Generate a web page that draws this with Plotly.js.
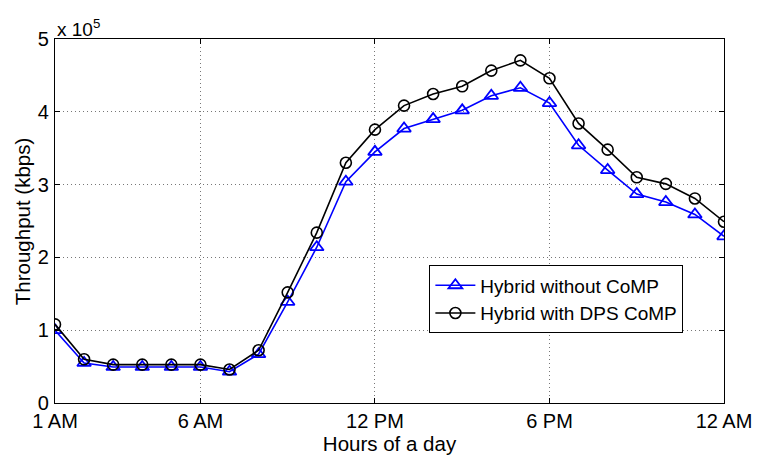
<!DOCTYPE html>
<html>
<head>
<meta charset="utf-8">
<script src="https://cdn.plot.ly/plotly-3.0.1.min.js"></script>
<style>html,body{margin:0;padding:0;background:#fff;}#chart{width:759px;height:457px;}</style>
</head>
<body>
<div id="chart"></div>
<script>
// Hours of the day (1 = 1 AM ... 24 = 12 AM)
const hours = [1,2,3,4,5,6,7,8,9,10,11,12,13,14,15,16,17,18,19,20,21,22,23,24];
// Throughput in units of 1e5 kbps
const withoutCoMP = [1.00,0.55,0.495,0.495,0.495,0.495,0.43,0.67,1.39,2.14,3.04,3.45,3.77,3.90,4.02,4.22,4.33,4.12,3.54,3.20,2.87,2.76,2.59,2.29];
const withDPS = [1.08,0.60,0.527,0.527,0.527,0.527,0.46,0.724,1.52,2.34,3.30,3.755,4.085,4.245,4.35,4.566,4.707,4.46,3.84,3.48,3.10,3.01,2.81,2.49];
const xTickVals = [1,6,12,18,24];
const xTickText = ['1 AM','6 AM','12 PM','6 PM','12 AM'];
const yTickVals = [0,1,2,3,4,5];
const seriesNames = ['Hybrid without CoMP','Hybrid with DPS CoMP'];

const fam = 'Liberation Sans, Arial, sans-serif';
const tickFont = {family:fam, size:20, color:'#000'};
const titleFont = {family:fam, size:20.5, color:'#000'};
const legendFont = {family:fam, size:19, color:'#000'};

const traces = [
  {x:hours, y:withoutCoMP, name:seriesNames[0], mode:'lines+markers', type:'scatter',
   line:{color:'#0000ff', width:1.6},
   marker:{symbol:'triangle-up-open', size:12, color:'#0000ff', line:{width:1.8, color:'#0000ff'}}},
  {x:hours, y:withDPS, name:seriesNames[1], mode:'lines+markers', type:'scatter',
   line:{color:'#000000', width:1.6},
   marker:{symbol:'circle-open', size:11, color:'#000000', line:{width:1.6, color:'#000000'}}}
];

const layout = {
  width:759, height:457,
  margin:{l:54.5, r:35.3, t:38.7, b:54.3},
  paper_bgcolor:'#fff', plot_bgcolor:'#fff',
  font:tickFont,
  showlegend:true,
  legend:{x:0.5596, xanchor:'left', y:0.378, yanchor:'top', bgcolor:'#fff',
          bordercolor:'#000', borderwidth:1, font:legendFont, tracegroupgap:0, itemwidth:40},
  xaxis:{range:[1,24], tickvals:xTickVals, ticktext:xTickText, showgrid:true,
         gridcolor:'#777', griddash:'1px,3px', gridwidth:1, zeroline:false,
         showline:true, linecolor:'#000', linewidth:1.2, mirror:'ticks',
         ticks:'inside', ticklen:5, tickcolor:'#000', tickfont:tickFont,
         title:{text:'Hours of a day', font:titleFont, standoff:2}},
  yaxis:{range:[0,5], tickvals:yTickVals, showgrid:true,
         gridcolor:'#777', griddash:'1px,3px', gridwidth:1, zeroline:false,
         showline:true, linecolor:'#000', linewidth:1.2, mirror:'ticks',
         ticks:'inside', ticklen:5, tickcolor:'#000', tickfont:tickFont, ticklabelstandoff:1},
  annotations:[
    {xref:'paper', yref:'paper', x:-0.049, y:0.5, text:'Throughput (kbps)', textangle:-90,
     showarrow:false, font:titleFont, xanchor:'center', yanchor:'middle'},
    {xref:'paper', yref:'paper', x:0.0, y:1.0, text:'x 10<sup>5</sup>', showarrow:false,
     font:{family:fam, size:19, color:'#000'}, xanchor:'left', yanchor:'bottom', yshift:-3}
  ]
};

Plotly.newPlot('chart', traces, layout, {staticPlot:true, displayModeBar:false});
</script>
</body>
</html>
